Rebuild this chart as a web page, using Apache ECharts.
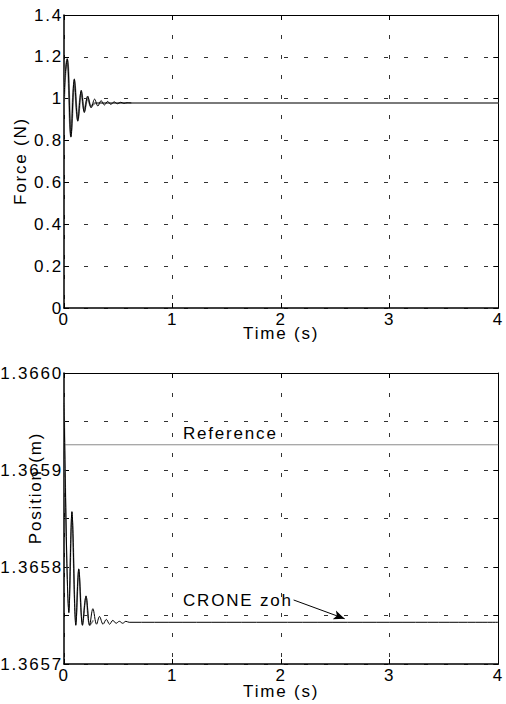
<!DOCTYPE html>
<html>
<head>
<meta charset="utf-8">
<script src="https://cdn.jsdelivr.net/npm/echarts@6/dist/echarts.min.js"></script>
<style>
  html, body { margin: 0; padding: 0; background: #fff; }
  #chart { width: 506px; height: 704px; }
  /* wide letter spacing of the plot lettering */
  #chart text { letter-spacing: 1.8px; }
</style>
</head>
<body>
<div id="chart"></div>
<script>
// ---- Force response (top panel) ----
const forceTimeZoh = [0, 0.012, 0.03, 0.064, 0.095, 0.127, 0.159, 0.187, 0.218, 0.25, 0.282, 0.312, 0.342, 0.372, 0.402, 0.432, 0.462, 0.492, 0.522, 0.552, 0.582, 0.62];
const forceZoh     = [0.98, 1.12, 1.19, 0.818, 1.093, 0.894, 1.04, 0.934, 1.013, 0.956, 0.998, 0.965, 0.991, 0.970, 0.987, 0.973, 0.985, 0.976, 0.983, 0.978, 0.981, 0.98];
const forceTimeCont = [0, 0.012, 0.03, 0.064, 0.095, 0.127, 0.159, 0.187, 0.218, 0.25, 0.29, 4];
const forceCont     = [0.98, 1.12, 1.19, 0.818, 1.093, 0.894, 1.035, 0.94, 1.005, 0.965, 0.98, 0.98];

// ---- Position response (bottom panel) ----
const posTimeZoh = [0, 0.005, 0.045, 0.073, 0.109, 0.136, 0.17, 0.203, 0.236, 0.266, 0.3, 0.327, 0.36, 0.39, 0.42, 0.45, 0.48, 0.51, 0.54, 0.57, 0.6, 4];
const posZoh     = [1.36597, 1.36597, 1.365753, 1.365857, 1.36574, 1.365798, 1.36574, 1.36577, 1.36574, 1.365757, 1.365741, 1.365749, 1.365741, 1.365746, 1.365741, 1.365745, 1.365742, 1.365744, 1.365742, 1.365744, 1.365743, 1.365743];
const posTimeCont = [0, 0.005, 0.045, 0.073, 0.109, 0.136, 0.17, 0.203, 0.236, 0.27];
const posCont     = [1.36597, 1.36597, 1.365753, 1.365857, 1.36574, 1.365798, 1.36574, 1.36577, 1.36574, 1.365745];
const refTime = [0, 4];
const refPos  = [1.365926, 1.365926];

// ---- Axis ticks ----
const timeTicks = [0, 1, 2, 3, 4];
const forceTicks = [0, 0.2, 0.4, 0.6, 0.8, 1, 1.2, 1.4];
const posTicks = [1.3657, 1.36575, 1.3658, 1.36585, 1.3659, 1.36595, 1.3660];

const pairs = (xs, ys) => xs.map((x, i) => [x, ys[i]]);

const FONT = 'Liberation Sans, Arial, Helvetica, sans-serif';
const FS = 17;
const gridDash = { color: '#333', width: 1, type: [4, 16] };

function timeAxis(gridIndex, nameGap) {
  return {
    type: 'value', gridIndex, position: 'bottom',
    min: timeTicks[0], max: timeTicks[timeTicks.length - 1],
    interval: timeTicks[1] - timeTicks[0],
    name: 'Time (s)', nameLocation: 'middle', nameGap, nameMoveOverlap: false,
    nameTextStyle: { color: '#000', fontFamily: FONT, fontSize: FS },
    axisLine: { onZero: false, lineStyle: { color: '#000', width: 1.5 } },
    axisTick: { inside: true, length: 5, lineStyle: { color: '#000' } },
    axisLabel: { color: '#000', fontFamily: FONT, fontSize: FS, margin: 3 },
    splitLine: { show: true, lineStyle: gridDash }
  };
}
function topFrame(gridIndex) {
  return {
    type: 'value', gridIndex, position: 'top',
    min: timeTicks[0], max: timeTicks[timeTicks.length - 1],
    interval: timeTicks[1] - timeTicks[0],
    axisLine: { onZero: false, lineStyle: { color: '#000', width: 1 } },
    axisTick: { inside: true, length: 5, lineStyle: { color: '#000' } },
    axisLabel: { show: false }, splitLine: { show: false }
  };
}
function valueAxis(gridIndex, ticks, formatter) {
  return {
    type: 'value', gridIndex, position: 'left',
    min: ticks[0], max: ticks[ticks.length - 1],
    interval: +(ticks[1] - ticks[0]).toFixed(6),
    axisLine: { onZero: false, lineStyle: { color: '#000', width: 1.5 } },
    axisTick: { inside: true, length: 5, lineStyle: { color: '#000' } },
    axisLabel: { color: '#000', fontFamily: FONT, fontSize: FS, margin: 1, formatter,
                 showMinLabel: true, showMaxLabel: true },
    splitLine: { show: true, lineStyle: gridDash }
  };
}
function rightFrame(gridIndex, ticks) {
  return {
    type: 'value', gridIndex, position: 'right',
    min: ticks[0], max: ticks[ticks.length - 1],
    interval: +(ticks[1] - ticks[0]).toFixed(6),
    axisLine: { onZero: false, lineStyle: { color: '#000', width: 1 } },
    axisTick: { inside: true, length: 5, lineStyle: { color: '#000' } },
    axisLabel: { show: false }, splitLine: { show: false }
  };
}

const posLabel = v => (Math.round(v * 1e5) % 10 === 0 ? v.toFixed(4) : '');

const chart = echarts.init(document.getElementById('chart'), null, { renderer: 'svg' });
chart.setOption({
  animation: false,
  backgroundColor: '#fff',
  grid: [
    { left: 64, top: 15, width: 439, height: 293 },
    { left: 64, top: 373, width: 439, height: 291 }
  ],
  xAxis: [timeAxis(0, 17), topFrame(0), timeAxis(1, 19), topFrame(1)],
  yAxis: [
    valueAxis(0, forceTicks), rightFrame(0, forceTicks),
    valueAxis(1, posTicks, posLabel), rightFrame(1, posTicks)
  ],
  series: [
    { name: 'Force CRONE', type: 'line', xAxisIndex: 0, yAxisIndex: 0,
      data: pairs(forceTimeCont, forceCont), showSymbol: false, smooth: 0.35,
      lineStyle: { color: '#7a7a7a', width: 2 }, z: 2 },
    { name: 'Force CRONE zoh', type: 'line', xAxisIndex: 0, yAxisIndex: 0,
      data: pairs(forceTimeZoh, forceZoh), showSymbol: false, smooth: 0.35,
      lineStyle: { color: '#000', width: 1 }, z: 3 },
    { name: 'Reference', type: 'line', xAxisIndex: 2, yAxisIndex: 2,
      data: pairs(refTime, refPos), showSymbol: false,
      lineStyle: { color: '#8a8a8a', width: 1 }, z: 2 },
    { name: 'Position CRONE', type: 'line', xAxisIndex: 2, yAxisIndex: 2,
      data: pairs(posTimeCont, posCont), showSymbol: false, smooth: 0.35,
      lineStyle: { color: '#7a7a7a', width: 1.6 }, z: 2 },
    { name: 'CRONE zoh', type: 'line', xAxisIndex: 2, yAxisIndex: 2,
      data: pairs(posTimeZoh, posZoh), showSymbol: false, smooth: 0.35,
      lineStyle: { color: '#000', width: 1 }, z: 3,
      markLine: {
        silent: true, animation: false,
        symbol: ['none', 'arrow'], symbolSize: [7, 11],
        label: { show: false },
        lineStyle: { color: '#000', width: 1, type: 'solid' },
        emphasis: { disabled: true },
        data: [[{ coord: [2.115, 1.365766] }, { coord: [2.585, 1.3657467] }]]
      } }
  ],
  graphic: [
    { type: 'text', x: 20, y: 161, rotation: Math.PI / 2,
      style: { text: 'Force (N)', fill: '#000', font: FS + 'px ' + FONT, align: 'center', verticalAlign: 'middle' } },
    { type: 'text', x: 35, y: 488, rotation: Math.PI / 2,
      style: { text: 'Position (m)', fill: '#000', font: FS + 'px ' + FONT, align: 'center', verticalAlign: 'middle' } },
    { type: 'text', x: 183, y: 442,
      style: { text: 'Reference', fill: '#000', font: FS + 'px ' + FONT, align: 'left', verticalAlign: 'bottom' } },
    { type: 'text', x: 183, y: 609,
      style: { text: 'CRONE zoh', fill: '#000', font: FS + 'px ' + FONT, align: 'left', verticalAlign: 'bottom' } }
  ]
});
</script>
</body>
</html>
